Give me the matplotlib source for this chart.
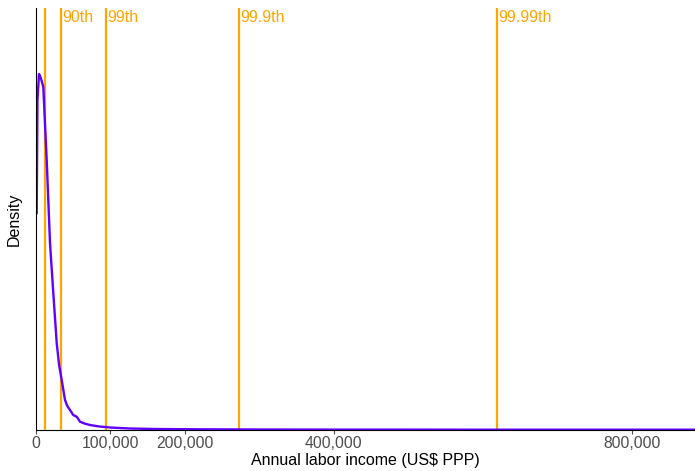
import numpy as np
import matplotlib.pyplot as plt

plt.rcParams['font.family'] = ['Liberation Sans', 'DejaVu Sans']

# density curve (income in US$, density in 1e-5 per $)
income = [940, 2000, 4030, 6500, 9800, 14370, 18800, 23230, 27800, 31000, 34500,
          38950, 42000, 45660, 50000, 54660, 59100, 65000, 72500, 85000, 99400,
          126000, 160000, 220000, 300000, 400000, 489000, 600000, 750000, 885000]
density = [2.17, 3.30, 3.56, 3.52, 3.43, 2.70, 1.87, 1.37, 0.87, 0.65, 0.50,
           0.30, 0.24, 0.20, 0.15, 0.133, 0.083, 0.065, 0.05, 0.035, 0.025,
           0.015, 0.010, 0.007, 0.005, 0.004, 0.004, 0.003, 0.003, 0.003]

# percentile markers
pct_values = [12000, 33600, 94000, 273000, 619000]
pct_labels = ['', '90th', '99th', '99.9th', '99.99th']

xticks = [0, 100000, 200000, 400000, 800000]

fig = plt.figure(figsize=(6.95, 4.71), dpi=100)
ax = fig.add_axes([36 / 695, 41 / 471, 1 - 36 / 695, 422 / 471])

for v, lab in zip(pct_values, pct_labels):
    ax.axvline(v, color='orange', lw=1.6, zorder=1)
    if lab:
        ax.text(v + 1800, 4.13, lab, color='orange', fontsize=11.5,
                ha='left', va='center')

ax.plot(income, density, color='#6000ff', lw=1.7, zorder=2)

ax.set_xlim(0, 885000)
ax.set_ylim(0, 4.22)
ax.set_xticks(xticks)
ax.set_xticklabels([f'{t:,}' for t in xticks])
ax.set_yticks([])
ax.tick_params(axis='x', colors='#4d4d4d', labelsize=11.3, length=3, width=0.8, pad=1.5)
ax.set_xlabel('Annual labor income (US$ PPP)', fontsize=11.5, labelpad=1)
ax.set_ylabel('Density', fontsize=11.5, labelpad=10)

for s in ['top', 'right']:
    ax.spines[s].set_visible(False)
ax.spines['left'].set_color('black')
ax.spines['bottom'].set_color('black')

fig.savefig('out.png', dpi=100)
